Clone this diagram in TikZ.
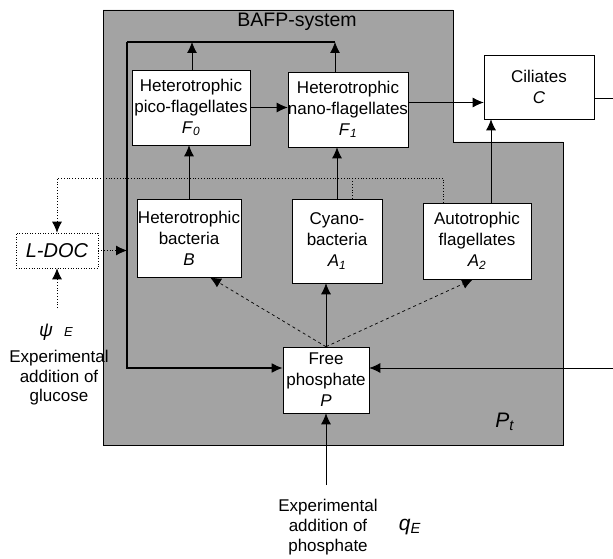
\documentclass[tikz,border=0pt]{standalone}
\usepackage{fontspec}
\setmainfont{Liberation Sans}
\usetikzlibrary{arrows.meta}
\definecolor{bafpgray}{RGB}{163,163,163}
\newcommand\bxfont{\fontsize{17}{21}\selectfont}
\newcommand\lblfont{\fontsize{17}{19.5}\selectfont}
\tikzset{
  box/.style={draw, fill=white, line width=0.6pt, align=center, inner sep=0pt, font=\bxfont},
  arr/.style={-{Latex[length=11pt,width=10pt]}},
  ln/.style={line width=0.8pt},
  loopln/.style={line width=1.8pt},
  dotln/.style={dotted, line width=0.8pt},
  lbl/.style={align=center, inner sep=0pt, font=\lblfont}
}
\begin{document}
\begin{tikzpicture}[x=1pt,y=-1pt]
\useasboundingbox (0,0) rectangle (613,559);
% BAFP system region
\draw[fill=bafpgray, line width=0.6pt] (103,10) -- (453,10) -- (453,142) -- (563,142) -- (563,445) -- (103,445) -- cycle;
\node[font=\fontsize{19.5}{22}\selectfont, inner sep=0pt] (title) at (297,22) {BAFP-system};
% boxes
\node[box, minimum width=118pt, minimum height=75pt] (F0) at (191,107.5) {Heterotrophic\\pico-flagellates\\\textit{F}\textsubscript{\textit{0}}};
\node[box, minimum width=120pt, minimum height=75pt] (F1) at (348,109.5) {Heterotrophic\\nano-flagellates\\\textit{F}\textsubscript{\textit{1}}};
\node[box, minimum width=110pt, minimum height=64pt] (C) at (539,87) {Ciliates\\\textit{C}};
\node[box, dotted, minimum width=82pt, minimum height=35pt, font=\fontsize{20}{22}\selectfont] (LDOC) at (57,250.5) {\textit{L-DOC}};
\node[box, minimum width=104pt, minimum height=78pt] (B) at (189,238) {Heterotrophic\\bacteria\\\textit{B}};
\node[box, minimum width=90pt, minimum height=84pt] (A1) at (337,241) {Cyano-\\bacteria\\\textit{A}\textsubscript{\textit{1}}};
\node[box, minimum width=108pt, minimum height=76pt] (A2) at (477,241) {Autotrophic\\flagellates\\\textit{A}\textsubscript{\textit{2}}};
\node[box, minimum width=86pt, minimum height=66pt] (P) at (326,380) {Free\\phosphate\\\textit{P}};
% labels
\node[lbl, font=\fontsize{19}{21}\selectfont] (psi) at (56,332) {\textit{ψ}\hspace{11pt}{\fontsize{13}{14}\selectfont\textit{E}}};
\node[lbl] (glc) at (59,378) {Experimental\\addition of\\glucose};
\node[lbl, font=\fontsize{17}{20}\selectfont] (pho) at (328,527) {Experimental\\addition of\\phosphate};
\node[lbl, font=\fontsize{21}{22}\selectfont] (qE) at (410,527) {\textit{q}\textsubscript{\textit{E}}};
\node[lbl, font=\fontsize{21}{22}\selectfont] (Pt) at (505,422) {\textit{P}\textsubscript{\textit{t}}};
% coordinates
\coordinate (lt) at (127,42);
\coordinate (rt) at (335,42);
\coordinate (ex) at (443,178);
\coordinate (psitop) at (57,308);
\coordinate (rc) at (613,98);
\coordinate (rp) at (613,368);
\coordinate (qtop) at (326,485);
\coordinate (f1out) at ([yshift=7pt]F1.east);
% loop (mortality / excretion to P)
\draw[loopln] (lt) -- (rt);
\draw[loopln, arr] (lt) |- ([yshift=12pt]P.west);
\draw[ln, arr] ([xshift=1pt]F0.north) -- ([xshift=1pt]F0.north |- lt);
\draw[ln, arr] ([xshift=-13pt]F1.north) -- ([xshift=-13pt]F1.north |- rt);
% grazing
\draw[ln, arr] (B.north) -- (B.north |- F0.south);
\draw[ln, arr] (A1.north) -- (A1.north |- F1.south);
\draw[ln, arr] (F0.east) -- (F1.west |- F0.east);
\draw[ln, arr] (f1out) -- (C.west |- f1out);
\draw[ln, arr] ([xshift=14pt]A2.north) -- ([xshift=14pt]A2.north |- C.south);
\draw[ln] ([yshift=-11pt]C.east) -- (rc);
\draw[ln, arr] (rp) -- ([yshift=12pt]P.east);
% DOC
\draw[dotln, arr] ([xshift=-34pt]A2.north) -- ([xshift=-34pt]A2.north |- ex) -| (LDOC.north);
\draw[dotln] ([xshift=15pt]A1.north) -- ([xshift=15pt]A1.north |- ex);
\draw[dotln, arr] (LDOC.east) -- (LDOC.east -| lt);
\draw[dotln, arr] (psitop) -- (LDOC.south);
% phosphate uptake
\draw[line width=0.7pt, dashed, arr] (P.north) -- ([xshift=21pt]B.south);
\draw[line width=0.7pt, arr] (P.north) -- (P.north |- A1.south);
\draw[line width=0.7pt, dashed, arr] (P.north) -- ([xshift=-4pt]A2.south);
\draw[ln, arr] (qtop) -- (P.south);
\end{tikzpicture}
\end{document}
